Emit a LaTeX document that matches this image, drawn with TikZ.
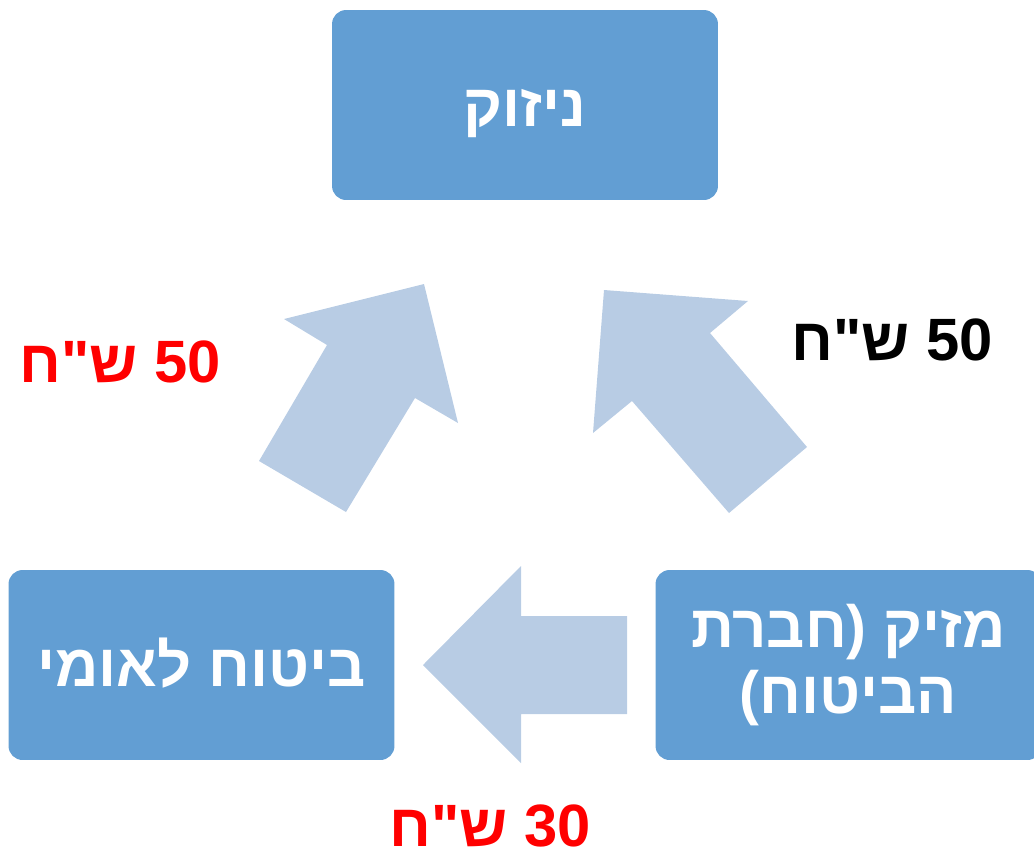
\documentclass[tikz,border=0pt]{standalone}
\usepackage{fontspec}
\setmainfont{Liberation Sans}
\newfontfamily\hebfont[Script=Hebrew]{Liberation Sans}
\TeXXeTstate=1
\usetikzlibrary{positioning}
\definecolor{partycolor}{RGB}{98,158,211}
\definecolor{flowcolor}{RGB}{184,204,228}
\definecolor{sumred}{RGB}{255,0,0}

\begin{document}
\begin{tikzpicture}[
    x=0.02cm, y=-0.02cm,
    every node/.style={font=\hebfont\bfseries},
    party/.style={rectangle, rounded corners=8pt, fill=partycolor, text=white, minimum width=7.72cm, minimum height=3.8cm, inner sep=0pt, align=center, font=\hebfont\bfseries\fontsize{34}{37.5}\selectfont},
    amount/.style={anchor=base, inner sep=0pt, font=\hebfont\bfseries\fontsize{34}{34}\selectfont},
    flow/.style={fill=flowcolor}
]
\useasboundingbox (0,0) rectangle (1034,853);
\clip (0,0) rectangle (1034,853);

% Parties
\node[party, text height=30pt, text depth=5pt] (injured) at (525,105) {\beginR ניזוק\endR};
\node[party, text height=30pt, text depth=5pt] (nii) at (201.5,665) {\beginR ביטוח לאומי\endR};
\node[party] (insurer) at (848.5,665) {\beginR מזיק (\kern0pt חברת\endR\\\beginR הביטוח\kern0pt)\endR};

% Arrows
\fill[flow] (259,461) -- (327,345) -- (284,319) -- (424,284) -- (458,423) -- (415,398) -- (346,512) -- cycle;
\fill[flow] (604,290) -- (748,301) -- (710,333) -- (807,447) -- (729,513) -- (632,401) -- (593,433) -- cycle;
\fill[flow] (423,665) -- (521,566) -- (521,616) -- (627,616) -- (627,714) -- (521,714) -- (521,763) -- cycle;

% Amounts
\node[amount, text=sumred] (nii sum) at (120,382) {\beginR\beginL 50\endL{} ש"ח\endR};
\node[amount, text=black] (insurer sum) at (892,360) {\beginR\beginL 50\endL{} ש"ח\endR};
\node[amount, text=sumred] (recourse sum) at (490,846) {\beginR\beginL 30\endL{} ש"ח\endR};

\end{tikzpicture}
\end{document}
